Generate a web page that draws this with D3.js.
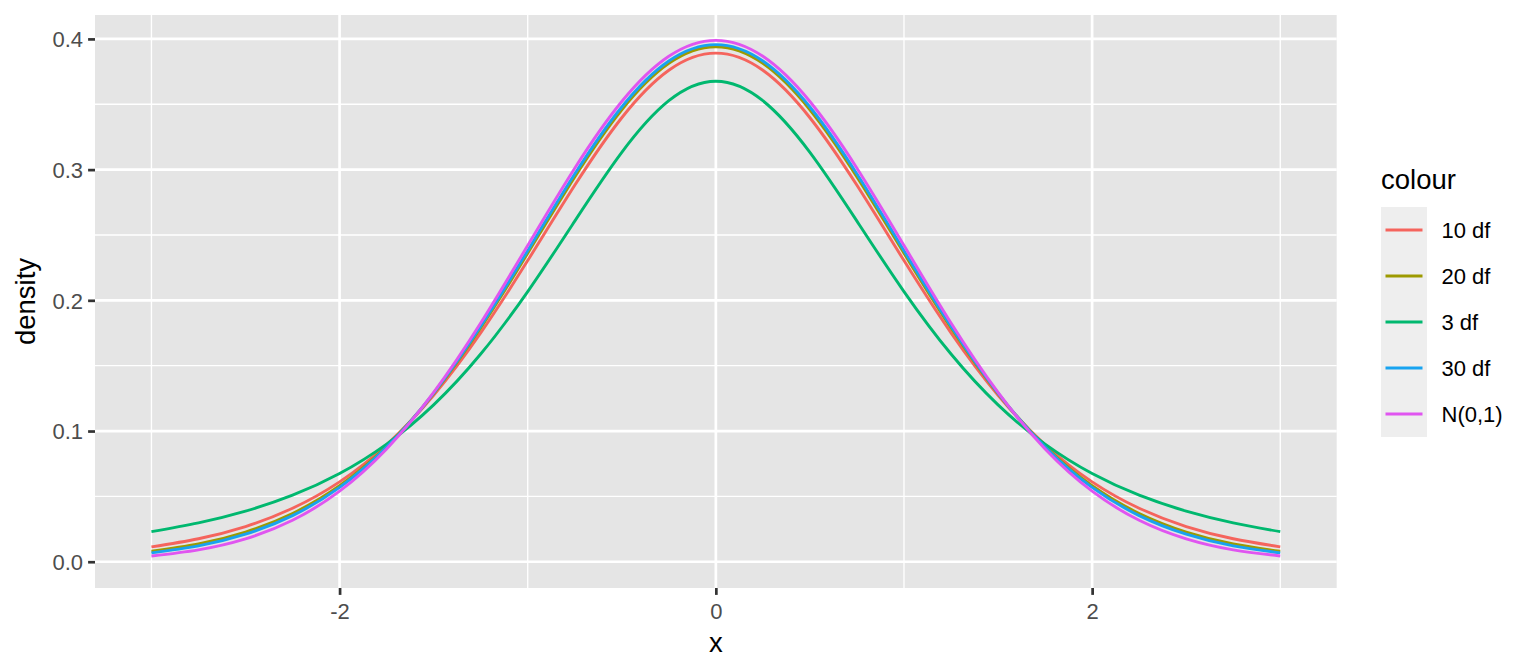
<!DOCTYPE html>
<html>
<head>
<meta charset="utf-8">
<script src="https://cdn.jsdelivr.net/npm/d3@7"></script>
<style>
  html, body { margin: 0; padding: 0; background: #fff; }
  svg { display: block; font-family: "Liberation Sans", Arial, sans-serif; }
</style>
</head>
<body>
<svg id="chart" width="1536" height="672"></svg>
<script>
// ---- data ----
const xValues = [-3, -2.75, -2.5, -2.25, -2, -1.75, -1.5, -1.25, -1, -0.75, -0.5, -0.25, 0,
                 0.25, 0.5, 0.75, 1, 1.25, 1.5, 1.75, 2, 2.25, 2.5, 2.75, 3];
const series = ["10 df", "20 df", "3 df", "30 df", "N(0,1)"];
const df10 = [0.0114, 0.0176, 0.0269, 0.0409, 0.0611, 0.0895, 0.1274, 0.1751, 0.2304, 0.2880, 0.3397, 0.3760, 0.3891,
              0.3760, 0.3397, 0.2880, 0.2304, 0.1751, 0.1274, 0.0895, 0.0611, 0.0409, 0.0269, 0.0176, 0.0114];
const df20 = [0.0080, 0.0136, 0.0227, 0.0369, 0.0581, 0.0883, 0.1286, 0.1788, 0.2360, 0.2944, 0.3458, 0.3813, 0.3940,
              0.3813, 0.3458, 0.2944, 0.2360, 0.1788, 0.1286, 0.0883, 0.0581, 0.0369, 0.0227, 0.0136, 0.0080];
const df3 = [0.0230, 0.0297, 0.0387, 0.0509, 0.0675, 0.0900, 0.1200, 0.1589, 0.2067, 0.2606, 0.3132, 0.3527, 0.3676,
             0.3527, 0.3132, 0.2606, 0.2067, 0.1589, 0.1200, 0.0900, 0.0675, 0.0509, 0.0387, 0.0297, 0.0230];
const df30 = [0.0068, 0.0121, 0.0211, 0.0353, 0.0569, 0.0877, 0.1290, 0.1801, 0.2380, 0.2966, 0.3479, 0.3831, 0.3956,
              0.3831, 0.3479, 0.2966, 0.2380, 0.1801, 0.1290, 0.0877, 0.0569, 0.0353, 0.0211, 0.0121, 0.0068];
const normal = [0.0044, 0.0091, 0.0175, 0.0317, 0.0540, 0.0863, 0.1295, 0.1826, 0.2420, 0.3011, 0.3521, 0.3867, 0.3989,
                0.3867, 0.3521, 0.3011, 0.2420, 0.1826, 0.1295, 0.0863, 0.0540, 0.0317, 0.0175, 0.0091, 0.0044];
const seriesValues = [df10, df20, df3, df30, normal];
const colours = ["#F5645D", "#9D9A00", "#00B86F", "#18A3F0", "#E055F0"];
const xMajor = [-2, 0, 2];
const xTickLabels = ["-2", "0", "2"];
const xMinor = [-3, -1, 1, 3];
const yMajor = [0, 0.1, 0.2, 0.3, 0.4];
const yTickLabels = ["0.0", "0.1", "0.2", "0.3", "0.4"];
const yMinor = [0.05, 0.15, 0.25, 0.35];

// ---- layout ----
const panel = { left: 95, top: 15, right: 1336.7, bottom: 588 };
const svg = d3.select("#chart");

const x = d3.scaleLinear().domain([-3.3, 3.3]).range([panel.left, panel.right]);
const y = d3.scaleLinear().domain([-0.0201, 0.4183]).range([panel.bottom, panel.top]);

// panel background
svg.append("rect")
  .attr("x", panel.left).attr("y", panel.top)
  .attr("width", panel.right - panel.left).attr("height", panel.bottom - panel.top)
  .attr("fill", "#E5E5E5");

const grid = svg.append("g");
grid.selectAll(".vminor").data(xMinor).enter().append("line")
  .attr("x1", d => x(d)).attr("x2", d => x(d))
  .attr("y1", panel.top).attr("y2", panel.bottom)
  .attr("stroke", "#fff").attr("stroke-width", 1.35);
grid.selectAll(".hminor").data(yMinor).enter().append("line")
  .attr("y1", d => y(d)).attr("y2", d => y(d))
  .attr("x1", panel.left).attr("x2", panel.right)
  .attr("stroke", "#fff").attr("stroke-width", 1.35);
grid.selectAll(".vmajor").data(xMajor).enter().append("line")
  .attr("x1", d => x(d)).attr("x2", d => x(d))
  .attr("y1", panel.top).attr("y2", panel.bottom)
  .attr("stroke", "#fff").attr("stroke-width", 2.7);
grid.selectAll(".hmajor").data(yMajor).enter().append("line")
  .attr("y1", d => y(d)).attr("y2", d => y(d))
  .attr("x1", panel.left).attr("x2", panel.right)
  .attr("stroke", "#fff").attr("stroke-width", 2.7);

// lines
const line = d3.line()
  .x((d, i) => x(xValues[i]))
  .y(d => y(d))
  .curve(d3.curveNatural);

svg.append("g").selectAll("path").data(seriesValues).enter().append("path")
  .attr("d", d => line(d))
  .attr("fill", "none")
  .attr("stroke", (d, i) => colours[i])
  .attr("stroke-width", 2.9)
  .attr("stroke-linejoin", "round");

// axes
const xAxis = d3.axisBottom(x).tickValues(xMajor).tickFormat((d, i) => xTickLabels[i])
  .tickSize(6.9).tickPadding(5);
const yAxis = d3.axisLeft(y).tickValues(yMajor).tickFormat((d, i) => yTickLabels[i])
  .tickSize(6.9).tickPadding(5);

const gx = svg.append("g").attr("transform", `translate(0,${panel.bottom})`).call(xAxis);
const gy = svg.append("g").attr("transform", `translate(${panel.left},0)`).call(yAxis);
[gx, gy].forEach(g => {
  g.select(".domain").remove();
  g.selectAll(".tick line").attr("stroke", "#333333").attr("stroke-width", 2.7);
  g.selectAll(".tick text").attr("fill", "#4D4D4D")
    .style("font-size", "22px").style("font-family", "Liberation Sans, Arial, sans-serif");
});
gx.selectAll(".tick text").attr("dy", null).attr("y", 30.5);
gy.selectAll(".tick text").attr("dy", "0.36em");

// axis titles
svg.append("text").attr("x", (panel.left + panel.right) / 2).attr("y", 652)
  .attr("text-anchor", "middle").style("font-size", "27.5px").attr("fill", "#000").text("x");
svg.append("text")
  .attr("transform", `translate(34.5,${(panel.top + panel.bottom) / 2}) rotate(-90)`)
  .attr("text-anchor", "middle").style("font-size", "27.5px").attr("fill", "#000").text("density");

// legend
const legend = svg.append("g");
legend.append("text").attr("x", 1381).attr("y", 189.3)
  .style("font-size", "27.5px").attr("fill", "#000").text("colour");
const keyTop = 207, keySize = 46;
series.forEach((s, i) => {
  const ky = keyTop + i * keySize;
  legend.append("rect").attr("x", 1381).attr("y", ky).attr("width", 46).attr("height", keySize)
    .attr("fill", "#EEEEEE");
  legend.append("line").attr("x1", 1385.5).attr("x2", 1422.5)
    .attr("y1", ky + keySize / 2).attr("y2", ky + keySize / 2)
    .attr("stroke", colours[i]).attr("stroke-width", 2.9);
  legend.append("text").attr("x", 1441.5).attr("y", ky + keySize / 2 + 8)
    .style("font-size", "22px").attr("fill", "#000").text(s);
});
</script>
</body>
</html>
